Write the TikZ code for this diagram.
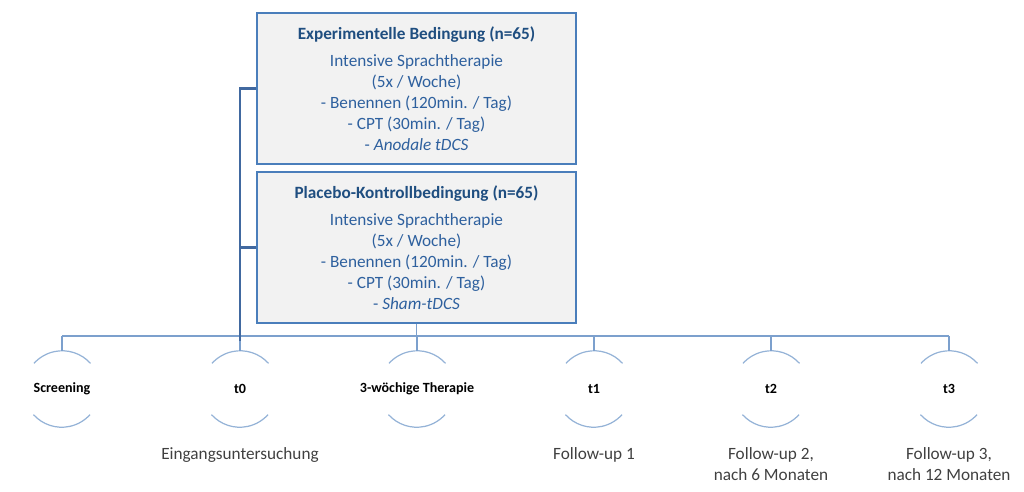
\documentclass[tikz,border=0pt]{standalone}
\usepackage{fontspec}
\setmainfont{Carlito}
\usetikzlibrary{positioning}
\definecolor{boxline}{RGB}{74,126,187}
\definecolor{boxfill}{RGB}{242,242,242}
\definecolor{ttlblue}{RGB}{31,78,128}
\definecolor{txtblue}{RGB}{46,96,158}
\definecolor{barblue}{RGB}{124,160,205}
\definecolor{arcblue}{RGB}{149,179,215}
\definecolor{thkblue}{RGB}{65,105,160}
\definecolor{lowgray}{RGB}{64,64,64}
\begin{document}
\begin{tikzpicture}[x=0.02cm,y=0.02cm,
 grp/.style={draw=boxline,line width=.7pt,fill=boxfill,minimum width=6.38cm,minimum height=3.02cm,align=center,text=txtblue,font=\fontsize{9.8}{11.9}\selectfont},
 ph/.style={circle,minimum size=1.52cm,inner sep=0pt},
 phlbl/.style={font=\fontsize{8}{9.6}\selectfont\bfseries},
 phtxt/.style={anchor=north,align=center,text=lowgray,font=\fontsize{9.8}{11.9}\selectfont},
 arcl/.style={draw=arcblue,line width=.7pt},
 thinl/.style={draw=barblue,line width=.7pt},
 thk/.style={draw=thkblue,line width=1.3pt}]
\useasboundingbox (0,0) rectangle (1024,-491);
\newcommand{\TPhase}[4]{\node[ph] (#1) at (#2,-389) {};
 \node[phlbl] (#1-l) at (#1) {#3};
 \draw[arcl] (#1.42) arc[start angle=42,end angle=138,radius=38];
 \draw[arcl] (#1.222) arc[start angle=222,end angle=318,radius=38];
 \draw[thinl] (#1.north) -- (#1.north |- bL);
 \node[phtxt] (#1-d) at (#2,-441) {#4};}
% treatment arms
\node[grp] (Exp) at (416.5,-88.5) {{\bfseries\color{ttlblue}Experimentelle Bedingung (n=65)}\\[4pt]
 Intensive Sprachtherapie\\(5x / Woche)\\- Benennen (120min. / Tag)\\- CPT (30min. / Tag)\\- \textit{Anodale tDCS}};
\node[grp] (Plc) at (416.5,-247.5) {{\bfseries\color{ttlblue}Placebo-Kontrollbedingung (n=65)}\\[4pt]
 Intensive Sprachtherapie\\(5x / Woche)\\- Benennen (120min. / Tag)\\- CPT (30min. / Tag)\\- \textit{Sham-tDCS}};
% time line
\coordinate (bL) at (62,-336); \coordinate (bR) at (949,-336);
\draw[thinl] (bL) -- (bR);
\TPhase{scr}{62}{Screening}{}
\TPhase{tzero}{240}{t0}{Eingangsuntersuchung}
\TPhase{ther}{417}{3-wöchige Therapie}{}
\TPhase{tone}{594}{t1}{Follow-up 1}
\TPhase{ttwo}{771}{t2}{Follow-up 2,\\nach 6 Monaten}
\TPhase{tthree}{949}{t3}{Follow-up 3,\\nach 12 Monaten}
\draw[thinl] (Plc.south) -- (Plc.south |- bL);
% randomisation at t0
\coordinate (t0top) at (240,-341);
\draw[thk] (Exp.west) -| (t0top);
\draw[thk] (Plc.west) -- (Plc.west -| t0top);
\end{tikzpicture}
\end{document}
